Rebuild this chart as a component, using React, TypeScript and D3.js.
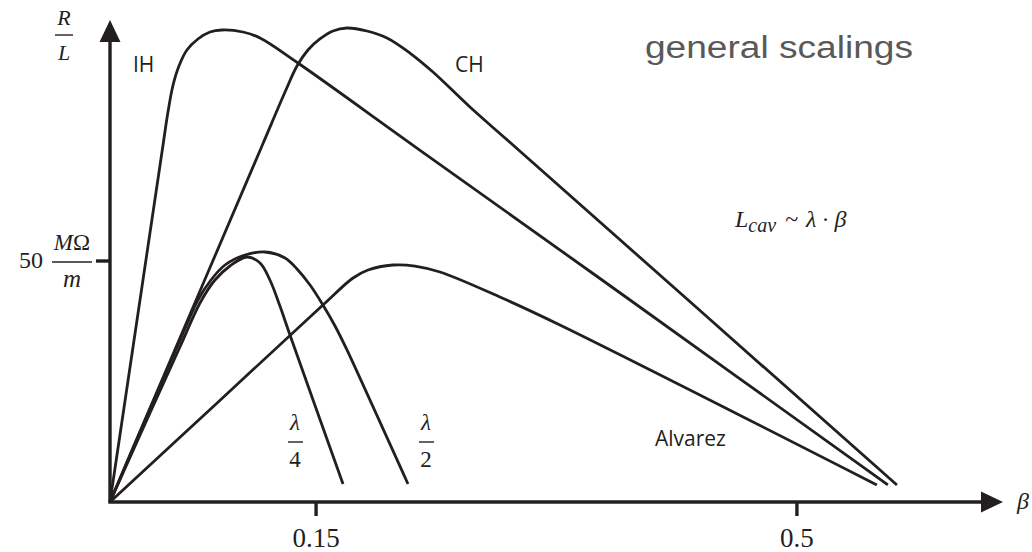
import React from "react";
import * as d3 from "d3";

const W = 1032;
const H = 552;

// Shunt impedance per length (MΩ/m) against β for each cavity family
const IH: [number, number][] = [
  [0, 0], [0.024, 46.06], [0.0386, 74.07], [0.0422, 80.91], [0.0459, 86.51],
  [0.0502, 90.46], [0.056, 93.78], [0.064, 96.06], [0.0728, 97.51],
  [0.0815, 97.93], [0.0968, 97.51], [0.1092, 96.27], [0.1368, 91.08],
  [0.2234, 73.44], [0.3785, 41.91], [0.5662, 3.53],
];

const CH: [number, number][] = [
  [0, 0], [0.0655, 43.78], [0.1106, 73.86], [0.1274, 85.06], [0.1361, 90.46],
  [0.1441, 93.78], [0.1528, 96.06], [0.1623, 97.72], [0.1725, 98.34],
  [0.187, 97.72], [0.2016, 96.27], [0.2183, 93.15], [0.2351, 89.21],
  [0.262, 81.95], [0.2933, 74.07], [0.5728, 3.53],
];

const QUARTER_WAVE: [number, number][] = [
  [0, 0], [0.0291, 18.46], [0.0509, 32.16], [0.0655, 41.29], [0.0764, 46.06],
  [0.0873, 48.96], [0.0997, 50.83], [0.1092, 49.59], [0.1164, 46.06],
  [0.1237, 40.66], [0.131, 34.65], [0.1696, 3.73],
];

const HALF_WAVE: [number, number][] = [
  [0, 0], [0.0277, 18.46], [0.0495, 32.57], [0.064, 41.91], [0.0735, 46.06],
  [0.0837, 49.17], [0.0983, 51.24], [0.1128, 51.87], [0.1274, 50.62],
  [0.1361, 48.34], [0.1456, 45.02], [0.155, 40.87], [0.1638, 36.51],
  [0.1725, 31.54], [0.2169, 3.73],
];

const ALVAREZ: [number, number][] = [
  [0, 0], [0.0764, 20.12], [0.155, 40.87], [0.1769, 46.47], [0.1878, 48.13],
  [0.206, 49.17], [0.222, 48.96], [0.2402, 47.72], [0.2838, 42.53],
  [0.3275, 36.72], [0.5582, 3.53],
];

const curves = [IH, CH, QUARTER_WAVE, HALF_WAVE, ALVAREZ];

const betaTicks = [0.15, 0.5];
const betaTickLabels = ["0.15", "0.5"];
const rlTicks = [50];
const rlTickLabels = ["50"];

const INK = "#231f20";
const SERIF = "'Liberation Serif', 'DejaVu Serif', serif";
const SANS = "'Open Sans', 'Liberation Sans', sans-serif";

export default function App() {
  const x = d3.scaleLinear().domain([0, 0.65]).range([110, 1003]);
  const y = d3.scaleLinear().domain([0, 100]).range([502, 20]);

  const line = d3
    .line<[number, number]>()
    .x((d) => x(d[0]))
    .y((d) => y(d[1]))
    .curve(d3.curveCatmullRom.alpha(0.5));

  const x0 = x(0);
  const y0 = y(0);
  const xEnd = x.range()[1];
  const yTop = y.range()[1];
  const arrowLen = 21;
  const arrowHalf = 10.5;

  return (
    <svg
      width={W}
      height={H}
      viewBox={`0 0 ${W} ${H}`}
      style={{ position: "fixed", left: 0, top: 0, background: "#fff" }}
    >
      <rect width={W} height={H} fill="#fff" />

      {/* curves */}
      {curves.map((c, i) => (
        <path
          key={i}
          d={line(c) ?? ""}
          fill="none"
          stroke={INK}
          strokeWidth={2.8}
          strokeLinejoin="round"
          strokeLinecap="butt"
        />
      ))}

      {/* axes */}
      <line x1={x0} y1={y0} x2={x0} y2={yTop + arrowLen} stroke={INK} strokeWidth={3.4} />
      <polygon
        points={`${x0},${yTop} ${x0 - arrowHalf},${yTop + arrowLen + 1} ${x0 + arrowHalf},${yTop + arrowLen + 1}`}
        fill={INK}
      />
      <line x1={x0 - 1.7} y1={y0} x2={xEnd - arrowLen} y2={y0} stroke={INK} strokeWidth={3.4} />
      <polygon
        points={`${xEnd},${y0} ${xEnd - arrowLen - 1},${y0 - arrowHalf} ${xEnd - arrowLen - 1},${y0 + arrowHalf}`}
        fill={INK}
      />

      {/* x ticks */}
      {betaTicks.map((t, i) => (
        <g key={t}>
          <line x1={x(t)} y1={y0} x2={x(t)} y2={y0 + 14} stroke={INK} strokeWidth={3.4} />
          <text
            x={x(t)}
            y={547}
            textAnchor="middle"
            fontFamily={SERIF}
            fontSize={27}
            fill={INK}
          >
            {betaTickLabels[i]}
          </text>
        </g>
      ))}

      {/* y ticks */}
      {rlTicks.map((t, i) => (
        <g key={t}>
          <line x1={x0 - 14} y1={y(t)} x2={x0} y2={y(t)} stroke={INK} strokeWidth={3.4} />
          <text x={43} y={y(t) + 7} textAnchor="end" fontFamily={SERIF} fontSize={24} fill={INK}>
            {rlTickLabels[i]}
          </text>
          {/* unit MΩ/m */}
          <text x={72} y={y(t) - 11} textAnchor="middle" fontFamily={SERIF} fontSize={23} fill={INK}>
            <tspan fontStyle="italic">M</tspan>
            <tspan>Ω</tspan>
          </text>
          <line x1={52} y1={y(t) + 1} x2={92} y2={y(t) + 1} stroke={INK} strokeWidth={1.4} />
          <text
            x={72}
            y={y(t) + 26}
            textAnchor="middle"
            fontFamily={SERIF}
            fontStyle="italic"
            fontSize={25}
            fill={INK}
          >
            m
          </text>
        </g>
      ))}

      {/* axis titles */}
      <text x={64} y={25} textAnchor="middle" fontFamily={SERIF} fontStyle="italic" fontSize={22} fill={INK}>
        R
      </text>
      <line x1={55} y1={35} x2={73} y2={35} stroke={INK} strokeWidth={1.4} />
      <text x={64} y={60} textAnchor="middle" fontFamily={SERIF} fontStyle="italic" fontSize={22} fill={INK}>
        L
      </text>
      <text x={1017} y={509} fontFamily={SERIF} fontStyle="italic" fontSize={24} fill={INK}>
        β
      </text>

      {/* curve names */}
      <text x={133} y={72} fontFamily={SANS} fontSize={21} fill={INK}>
        IH
      </text>
      <text x={455} y={72} fontFamily={SANS} fontSize={21} fill={INK}>
        CH
      </text>
      <text x={655} y={446} fontFamily={SANS} fontSize={21} fill={INK}>
        Alvarez
      </text>

      {/* λ/4 */}
      <text x={295} y={430} textAnchor="middle" fontFamily={SERIF} fontStyle="italic" fontSize={23} fill={INK}>
        λ
      </text>
      <line x1={288} y1={442} x2={303} y2={442} stroke={INK} strokeWidth={1.4} />
      <text x={295} y={467} textAnchor="middle" fontFamily={SERIF} fontSize={23} fill={INK}>
        4
      </text>

      {/* λ/2 */}
      <text x={426} y={430} textAnchor="middle" fontFamily={SERIF} fontStyle="italic" fontSize={23} fill={INK}>
        λ
      </text>
      <line x1={419} y1={442} x2={434} y2={442} stroke={INK} strokeWidth={1.4} />
      <text x={426} y={467} textAnchor="middle" fontFamily={SERIF} fontSize={23} fill={INK}>
        2
      </text>

      {/* cavity length scaling */}
      <text x={735} y={227} fontFamily={SERIF} fontSize={24} fill={INK}>
        <tspan fontStyle="italic">L</tspan>
        <tspan fontStyle="italic" fontSize={20} dy={5}>cav</tspan>
        <tspan dy={-5} dx={9}>~</tspan>
        <tspan dx={8} fontStyle="italic">λ</tspan>
        <tspan dx={5}>·</tspan>
        <tspan dx={5} fontStyle="italic">β</tspan>
      </text>

      <text
        x={645}
        y={58}
        fontFamily="'Liberation Sans', Arial, sans-serif"
        fontSize={31}
        fill="#595959"
        textLength={268}
        lengthAdjust="spacingAndGlyphs"
      >
        general scalings
      </text>
    </svg>
  );
}
